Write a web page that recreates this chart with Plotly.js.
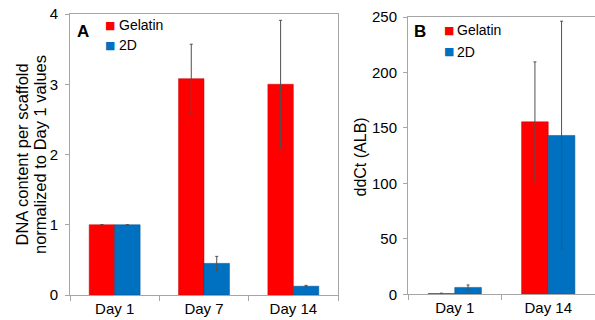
<!DOCTYPE html>
<html>
<head>
<meta charset="utf-8">
<script src="https://cdn.plot.ly/plotly-3.0.1.min.js"></script>
<style>html,body{margin:0;padding:0;background:#fff;}#chart{width:595px;height:320px;}</style>
</head>
<body>
<div id="chart"></div>
<script>
// Panel A data
const catsA = ["Day 1", "Day 7", "Day 14"];
const gelatinA = [1.0, 3.08, 3.0];
const gelatinErrA = [0, 0.49, 0.91];
const twoDA = [1.0, 0.45, 0.125];
const twoDErrA = [0, 0.1, 0.012];

// Panel B data
const catsB = ["Day 1", "Day 14"];
const gelatinB = [0.7, 155.5];
const gelatinErrB = [0.3, 54];
const twoDB = [6.2, 143.2];
const twoDErrB = [2.2, 103];

const RED = "#ff0000", BLUE = "#0070c0";
const FONT = "Liberation Sans, Arial, sans-serif";
const err = (arr) => ({type: "data", array: arr, visible: true, color: "#505050", thickness: 1, width: 1.5});

const traces = [
  {type: "bar", x: catsA, y: gelatinA, error_y: err(gelatinErrA), name: "Gelatin",
   marker: {color: RED, line: {color: "#c00000", width: 0.5}}, xaxis: "x", yaxis: "y", showlegend: false},
  {type: "bar", x: catsA, y: twoDA, error_y: err(twoDErrA), name: "2D",
   marker: {color: BLUE, line: {color: "#004f8a", width: 0.5}}, xaxis: "x", yaxis: "y", showlegend: false},
  {type: "bar", x: catsB, y: gelatinB, error_y: err(gelatinErrB), name: "Gelatin",
   marker: {color: RED, line: {color: "#c00000", width: 0.5}}, xaxis: "x2", yaxis: "y2", showlegend: false},
  {type: "bar", x: catsB, y: twoDB, error_y: err(twoDErrB), name: "2D",
   marker: {color: BLUE, line: {color: "#004f8a", width: 0.5}}, xaxis: "x2", yaxis: "y2", showlegend: false}
];

const W = 595, H = 320;
const px = (v) => v / W, py = (v) => 1 - v / H;

const xCommon = {
  showline: true, linecolor: "#a6a6a6", linewidth: 1, mirror: true,
  ticks: "outside", tickson: "boundaries", ticklen: 5, tickcolor: "#a6a6a6",
  tickfont: {family: FONT, size: 15, color: "#000"}, showgrid: false, zeroline: false, fixedrange: true
};
const yCommon = {
  showline: true, linecolor: "#a6a6a6", linewidth: 1, mirror: true,
  ticks: "outside", ticklen: 4, tickcolor: "#a6a6a6",
  tickfont: {family: FONT, size: 15, color: "#000"}, showgrid: false, zeroline: false, fixedrange: true
};

const ann = (x, y, text, size, extra) => Object.assign({
  xref: "paper", yref: "paper", x: px(x), y: py(y), text: text, showarrow: false,
  xanchor: "center", yanchor: "middle", font: {family: FONT, size: size, color: "#000"}
}, extra || {});
const sq = (x, y, c) => ann(x, y, "■", 11, {font: {family: "DejaVu Sans", size: 11, color: c}});

const layout = {
  width: W, height: H,
  margin: {l: 0, r: 0, t: 0, b: 0},
  paper_bgcolor: "#fff", plot_bgcolor: "#fff",
  barmode: "group",
  bargap: 0.43, bargroupgap: 0,
  showlegend: false,
  xaxis: Object.assign({}, xCommon, {domain: [px(70), px(338)], anchor: "y"}),
  yaxis: Object.assign({}, yCommon, {domain: [py(295), py(14)], range: [0, 4], dtick: 1, anchor: "x", ticklabelstandoff: 4}),
  xaxis2: Object.assign({}, xCommon, {domain: [px(408), px(595)], anchor: "y2"}),
  yaxis2: Object.assign({}, yCommon, {domain: [py(294.3), py(17)], range: [0, 250], dtick: 50, anchor: "x2", ticklabelstandoff: 3}),
  annotations: [
    ann(21.5, 155, "DNA content per scaffold", 16.5, {textangle: -90}),
    ann(40, 155, "normalized to Day 1 values", 16.5, {textangle: -90}),
    ann(359.5, 157, "ddCt (ALB)", 16, {textangle: -90}),
    ann(83, 31, "<b>A</b>", 17),
    ann(420, 32, "<b>B</b>", 17),
    sq(110, 25, RED), ann(117, 25, "Gelatin", 14, {xanchor: "left"}),
    sq(110, 45, BLUE), ann(117, 45, "2D", 14, {xanchor: "left"}),
    sq(448.5, 30, RED), ann(455, 30, "Gelatin", 14, {xanchor: "left"}),
    sq(448.5, 52, BLUE), ann(455, 52, "2D", 14, {xanchor: "left"})
  ]
};

Plotly.newPlot("chart", traces, layout, {displayModeBar: false, staticPlot: true});
</script>
</body>
</html>
